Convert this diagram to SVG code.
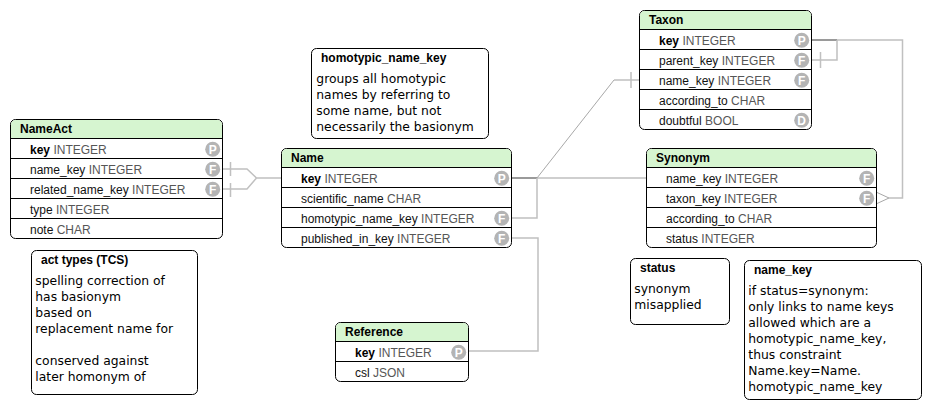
<svg xmlns="http://www.w3.org/2000/svg" width="932" height="410" viewBox="0 0 932 410">
<style>
text{font-family:"Liberation Sans",Arial,sans-serif;font-size:12px;fill:#111}
.box{fill:#fff;stroke:#000;stroke-width:1}
.head{fill:#d6f5d0}
.div{stroke:#000;stroke-width:1;fill:none}
.t{font-weight:bold;fill:#000}
.ty{fill:#565656}
.n{font-family:"DejaVu Sans",Verdana,sans-serif;font-size:12.35px;fill:#000}
.c{fill:none;stroke:#c0c0c0;stroke-width:1.5}
.d{fill:none;stroke:#9a9a9a;stroke-width:2}
.th{fill:none;stroke:#a8a8a8;stroke-width:1}
.b{fill:#b4b4b4}
.bt{font-size:12px;font-weight:bold;fill:#fff;text-anchor:middle}
</style>
<g id="connectors">
<path class="c" d="M222 169H247L256.500 178H281M222 189H247L256.500 178"/>
<path class="c" d="M230.500 162V176M230.500 183V197"/>
<path class="d" d="M511 178H537"/>
<path class="c" d="M537 178H646M537 178V218H511M511 238H538V351H468"/>
<path class="th" d="M537 178L614 80"/>
<path class="c" d="M614 80H639M631 72V88"/>
<path class="d" d="M811 40H837"/>
<path class="c" d="M837 40V60H811M820.500 52V68M837 40H902.500V198H889"/>
<path class="th" d="M876 192L889 198L876 204"/>
</g>
<g id="NameAct">
<path class="box" d="M15.500 119.500H217.500a5 5 0 0 1 5 5V233.500a5 5 0 0 1-5 5H15.500a5 5 0 0 1-5-5V124.500a5 5 0 0 1 5-5Z"/>
<path class="head" d="M15.500 120H217.500a4.500 4.500 0 0 1 4.500 4.500V138H11V124.500a4.500 4.500 0 0 1 4.500-4.500Z"/>
<path class="div" d="M10.500 138.500H222.500M10.500 158.500H222.500M10.500 178.500H222.500M10.500 198.500H222.500M10.500 218.500H222.500"/>
<text class="t" x="20" y="133">NameAct</text>
<text x="30" y="154"><tspan class="t">key</tspan> <tspan class="ty">INTEGER</tspan></text>
<text x="30" y="174">name_key <tspan class="ty">INTEGER</tspan></text>
<text x="30" y="194">related_name_key <tspan class="ty">INTEGER</tspan></text>
<text x="30" y="214">type <tspan class="ty">INTEGER</tspan></text>
<text x="30" y="234">note <tspan class="ty">CHAR</tspan></text>
<circle class="b" cx="212.700" cy="149.300" r="7.500"/><text class="bt" x="212.700" y="153.500">P</text>
<circle class="b" cx="212.700" cy="169.300" r="7.500"/><text class="bt" x="212.700" y="173.500">F</text>
<circle class="b" cx="212.700" cy="189.300" r="7.500"/><text class="bt" x="212.700" y="193.500">F</text>
</g>
<g id="Name">
<path class="box" d="M286.500 148.500H506.500a5 5 0 0 1 5 5V242.500a5 5 0 0 1-5 5H286.500a5 5 0 0 1-5-5V153.500a5 5 0 0 1 5-5Z"/>
<path class="head" d="M286.500 149H506.500a4.500 4.500 0 0 1 4.500 4.500V167H282V153.500a4.500 4.500 0 0 1 4.500-4.500Z"/>
<path class="div" d="M281.500 167.500H511.500M281.500 187.500H511.500M281.500 207.500H511.500M281.500 227.500H511.500"/>
<text class="t" x="291" y="162">Name</text>
<text x="301" y="183"><tspan class="t">key</tspan> <tspan class="ty">INTEGER</tspan></text>
<text x="301" y="203">scientific_name <tspan class="ty">CHAR</tspan></text>
<text x="301" y="223">homotypic_name_key <tspan class="ty">INTEGER</tspan></text>
<text x="301" y="243">published_in_key <tspan class="ty">INTEGER</tspan></text>
<circle class="b" cx="501.700" cy="178.300" r="7.500"/><text class="bt" x="501.700" y="182.500">P</text>
<circle class="b" cx="501.700" cy="218.300" r="7.500"/><text class="bt" x="501.700" y="222.500">F</text>
<circle class="b" cx="501.700" cy="238.300" r="7.500"/><text class="bt" x="501.700" y="242.500">F</text>
</g>
<g id="Taxon">
<path class="box" d="M644.500 10.500H806.500a5 5 0 0 1 5 5V124.500a5 5 0 0 1-5 5H644.500a5 5 0 0 1-5-5V15.500a5 5 0 0 1 5-5Z"/>
<path class="head" d="M644.500 11H806.500a4.500 4.500 0 0 1 4.500 4.500V29H640V15.500a4.500 4.500 0 0 1 4.500-4.500Z"/>
<path class="div" d="M639.500 29.500H811.500M639.500 49.500H811.500M639.500 69.500H811.500M639.500 89.500H811.500M639.500 109.500H811.500"/>
<text class="t" x="649" y="24">Taxon</text>
<text x="659" y="45"><tspan class="t">key</tspan> <tspan class="ty">INTEGER</tspan></text>
<text x="659" y="65">parent_key <tspan class="ty">INTEGER</tspan></text>
<text x="659" y="85">name_key <tspan class="ty">INTEGER</tspan></text>
<text x="659" y="105">according_to <tspan class="ty">CHAR</tspan></text>
<text x="659" y="125">doubtful <tspan class="ty">BOOL</tspan></text>
<circle class="b" cx="801.700" cy="40.300" r="7.500"/><text class="bt" x="801.700" y="44.500">P</text>
<circle class="b" cx="801.700" cy="60.300" r="7.500"/><text class="bt" x="801.700" y="64.500">F</text>
<circle class="b" cx="801.700" cy="80.300" r="7.500"/><text class="bt" x="801.700" y="84.500">F</text>
<circle class="b" cx="801.700" cy="120.300" r="7.500"/><text class="bt" x="801.700" y="124.500">D</text>
</g>
<g id="Synonym">
<path class="box" d="M651.500 148.500H871.500a5 5 0 0 1 5 5V242.500a5 5 0 0 1-5 5H651.500a5 5 0 0 1-5-5V153.500a5 5 0 0 1 5-5Z"/>
<path class="head" d="M651.500 149H871.500a4.500 4.500 0 0 1 4.500 4.500V167H647V153.500a4.500 4.500 0 0 1 4.500-4.500Z"/>
<path class="div" d="M646.500 167.500H876.500M646.500 187.500H876.500M646.500 207.500H876.500M646.500 227.500H876.500"/>
<text class="t" x="656" y="162">Synonym</text>
<text x="666" y="183">name_key <tspan class="ty">INTEGER</tspan></text>
<text x="666" y="203">taxon_key <tspan class="ty">INTEGER</tspan></text>
<text x="666" y="223">according_to <tspan class="ty">CHAR</tspan></text>
<text x="666" y="243">status <tspan class="ty">INTEGER</tspan></text>
<circle class="b" cx="866.700" cy="178.300" r="7.500"/><text class="bt" x="866.700" y="182.500">F</text>
<circle class="b" cx="866.700" cy="198.300" r="7.500"/><text class="bt" x="866.700" y="202.500">F</text>
</g>
<g id="Reference">
<path class="box" d="M340.500 322.500H463.500a5 5 0 0 1 5 5V376.500a5 5 0 0 1-5 5H340.500a5 5 0 0 1-5-5V327.500a5 5 0 0 1 5-5Z"/>
<path class="head" d="M340.500 323H463.500a4.500 4.500 0 0 1 4.500 4.500V341H336V327.500a4.500 4.500 0 0 1 4.500-4.500Z"/>
<path class="div" d="M335.500 341.500H468.500M335.500 361.500H468.500"/>
<text class="t" x="345" y="336">Reference</text>
<text x="355" y="357"><tspan class="t">key</tspan> <tspan class="ty">INTEGER</tspan></text>
<text x="355" y="377">csl <tspan class="ty">JSON</tspan></text>
<circle class="b" cx="458.700" cy="352.300" r="7.500"/><text class="bt" x="458.700" y="356.500">P</text>
</g>
<g id="note-homotypic">
<rect class="box" x="311.500" y="48.500" width="177" height="90" rx="5"/>
<text class="t" x="321" y="62">homotypic_name_key</text>
<text class="n" x="316.300" y="83">groups all homotypic</text>
<text class="n" x="316.300" y="99">names by referring to</text>
<text class="n" x="316.300" y="115">some name, but not</text>
<text class="n" x="316.300" y="131">necessarily the basionym</text>
</g>
<g id="note-act-types">
<rect class="box" x="31.500" y="250.500" width="166" height="144" rx="5"/>
<text class="t" x="41" y="264">act types (TCS)</text>
<text class="n" x="35.300" y="285">spelling correction of</text>
<text class="n" x="35.300" y="301">has basionym</text>
<text class="n" x="35.300" y="317">based on</text>
<text class="n" x="35.300" y="333">replacement name for</text>
<text class="n" x="35.300" y="365">conserved against</text>
<text class="n" x="35.300" y="381">later homonym of</text>
</g>
<g id="note-status">
<rect class="box" x="630.500" y="258.500" width="99" height="66" rx="5"/>
<text class="t" x="640" y="272">status</text>
<text class="n" x="634.300" y="293">synonym</text>
<text class="n" x="634.300" y="309">misapplied</text>
</g>
<g id="note-name-key">
<rect class="box" x="744.500" y="260.500" width="177" height="139" rx="5"/>
<text class="t" x="754" y="274">name_key</text>
<text class="n" x="748.300" y="295">if status=synonym:</text>
<text class="n" x="748.300" y="311">only links to name keys</text>
<text class="n" x="748.300" y="327">allowed which are a</text>
<text class="n" x="748.300" y="343">homotypic_name_key,</text>
<text class="n" x="748.300" y="359">thus constraint</text>
<text class="n" x="748.300" y="375">Name.key=Name.</text>
<text class="n" x="748.300" y="391">homotypic_name_key</text>
</g>
</svg>
